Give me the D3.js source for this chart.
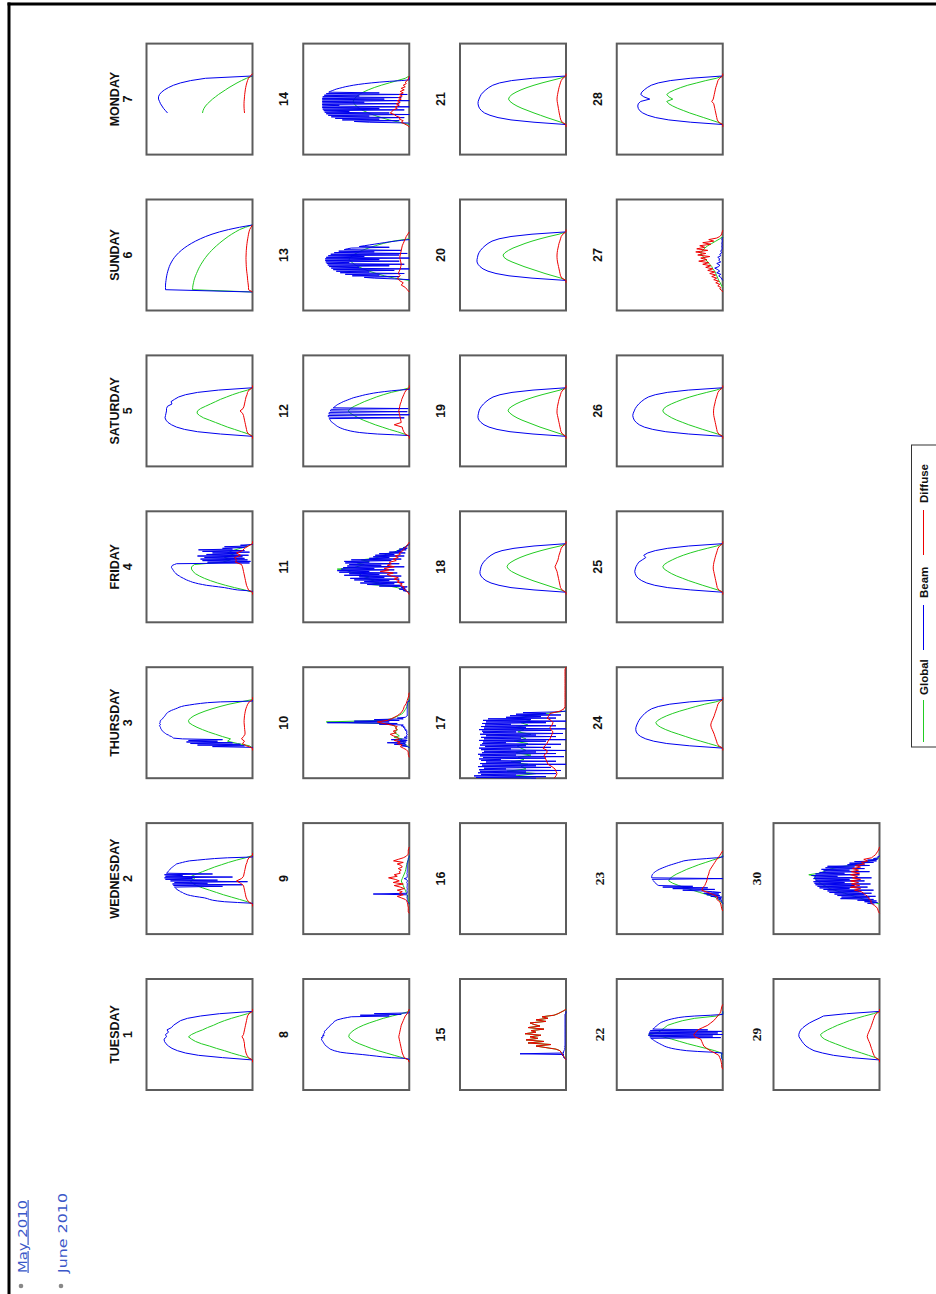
<!DOCTYPE html>
<html>
<head>
<meta charset="utf-8">
<script src="https://cdn.jsdelivr.net/npm/d3@7"></script>
<style>
  html, body { margin: 0; padding: 0; background: #fff; }
  svg { display: block; }
</style>
</head>
<body>
<svg id="cal" width="936" height="1294"></svg>
<script>
// Calendar of daily solar irradiance (May 2010), drawn rotated a quarter turn.
const weekdayNames = ["TUESDAY", "WEDNESDAY", "THURSDAY", "FRIDAY", "SATURDAY", "SUNDAY", "MONDAY"];
const dayNumbers = [1, 2, 3, 4, 5, 6, 7, 8, 9, 10, 11, 12, 13, 14, 15, 16, 17, 18, 19, 20, 21, 22, 23, 24, 25, 26, 27, 28, 29, 30];
const serifDays = [22, 23, 29, 30];
const seriesNames = ["Global", "Beam", "Diffuse"];
const monthLinks = ["May 2010", "June 2010"];

// Each day: [start hour, step in minutes, W/m² readings...]
const globalSeries = [
  [6.5, 30, 0, 50, 130, 210, 280, 360, 430, 510, 570, 610, 640, 610, 560, 500, 450, 390, 340, 280, 210, 130, 50, 0],
  [6.5, 30, 0, 50, 130, 210, 290, 360, 430, 500, 560, 600, 620, 580, 610, 560, 500, 440, 380, 310, 240, 160, 70, 0],
  [6.5, 30, 0, 30, 150, 250, 220, 300, 370, 440, 500, 555, 600, 635, 640, 620, 585, 535, 475, 405, 325, 235, 120, 0],
  [6.5, 30, 0, 80, 180, 270, 350, 420, 480, 530, 570, 595, 610, 610, 580, 300, 220, 280, 180, 250, 200, 120, 50, 0],
  [6.5, 30, 0, 40, 110, 180, 250, 310, 370, 430, 490, 530, 555, 550, 520, 470, 420, 370, 320, 260, 200, 130, 50, 0],
  [4, 30, 0, 600, 598, 595, 590, 585, 578, 570, 560, 550, 540, 528, 515, 500, 485, 468, 450, 430, 408, 385, 360, 333, 305, 275, 243, 208, 170, 128, 70, 0],
  [9, 30, 500, 495, 485, 470, 450, 425, 400, 370, 340, 305, 270, 235, 195, 155, 110, 60, 0],
  [6.5, 30, 0, 70, 150, 230, 310, 380, 440, 500, 550, 585, 605, 600, 580, 550, 510, 460, 400, 330, 260, 170, 80, 0],
  [6.5, 30, 0, 5, 10, 15, 20, 30, 40, 50, 60, 70, 80, 70, 60, 50, 40, 35, 30, 25, 20, 10, 5, 0],
  [6.5, 20, 0, 10, 30, 60, 50, 90, 70, 150, 100, 120, 150, 130, 120, 130, 140, 160, 260, 830, 260, 180, 140, 110, 80, 60, 50, 40, 30, 25, 20, 15, 10, 5, 0],
  [6.5, 20, 0, 40, 80, 120, 200, 380, 300, 400, 350, 450, 400, 500, 480, 580, 620, 720, 550, 500, 450, 520, 400, 480, 350, 300, 250, 220, 150, 120, 80, 50, 30, 0],
  [6.5, 30, 0, 50, 120, 200, 270, 340, 400, 460, 510, 550, 590, 610, 590, 550, 500, 450, 390, 330, 260, 180, 80, 0],
  [6.5, 30, 0, 150, 250, 330, 400, 460, 510, 550, 580, 600, 590, 560, 520, 470, 410, 340, 260, 160, 0],
  [6.5, 30, 0, 100, 200, 280, 350, 410, 460, 500, 530, 550, 560, 550, 530, 500, 460, 410, 350, 280, 200, 120, 40, 0],
  [6.5, 20, 0, 10, 20, 30, 40, 50, 60, 100, 200, 300, 150, 380, 220, 400, 280, 360, 250, 410, 300, 350, 220, 380, 260, 320, 360, 200, 300, 180, 240, 120, 80, 50, 20, 0],
  [],
  [0, 30, 350, 500, 300, 590, 400, 450, 380, 550, 420, 480, 350, 500, 400, 450, 490, 380, 520, 400, 460, 350, 480, 420, 500, 380, 450, 360, 490, 360, 200, 0],
  [6.5, 30, 0, 50, 120, 190, 260, 330, 390, 450, 500, 545, 575, 590, 580, 550, 510, 460, 400, 330, 250, 160, 60, 0],
  [6.5, 30, 0, 50, 120, 190, 260, 320, 380, 440, 490, 530, 560, 580, 570, 540, 500, 450, 390, 320, 240, 150, 60, 0],
  [6.5, 30, 0, 50, 130, 210, 280, 350, 420, 480, 540, 590, 620, 630, 610, 575, 530, 470, 410, 340, 260, 170, 70, 0],
  [6.5, 30, 0, 50, 120, 190, 255, 320, 380, 440, 490, 530, 560, 575, 565, 540, 500, 450, 390, 320, 240, 150, 60, 0],
  [6.5, 30, 0, 10, 10, 15, 80, 170, 260, 350, 430, 510, 600, 740, 640, 610, 580, 550, 480, 400, 280, 60, 0, 0],
  [6.5, 30, 0, 20, 40, 80, 150, 230, 300, 380, 440, 500, 540, 530, 500, 460, 410, 360, 300, 240, 170, 100, 30, 0],
  [6.5, 30, 0, 60, 140, 220, 300, 370, 440, 510, 570, 620, 655, 670, 650, 610, 560, 500, 430, 350, 270, 180, 70, 0],
  [6.5, 30, 0, 50, 125, 200, 270, 340, 400, 460, 510, 550, 585, 600, 585, 550, 505, 455, 395, 325, 245, 155, 60, 0],
  [6.5, 30, 0, 50, 125, 200, 270, 340, 400, 460, 510, 550, 585, 600, 590, 560, 515, 460, 400, 330, 250, 160, 65, 0],
  [5, 30, 0, 15, 25, 40, 50, 60, 70, 80, 100, 110, 130, 150, 170, 190, 210, 220, 200, 180, 150, 110, 70, 30, 0],
  [6.5, 30, 0, 50, 120, 190, 260, 330, 390, 450, 500, 540, 560, 500, 540, 560, 530, 480, 420, 350, 260, 170, 65, 0],
  [6.5, 30, 0, 40, 110, 180, 250, 320, 380, 440, 500, 550, 580, 590, 560, 520, 470, 420, 360, 300, 230, 150, 60, 0],
  [6.5, 20, 0, 50, 100, 150, 200, 250, 300, 350, 400, 450, 500, 520, 550, 580, 600, 620, 640, 650, 640, 707, 600, 560, 520, 480, 400, 300, 200, 150, 100, 50, 0]
];

const beamSeries = [
  [6.5, 30, 0, 300, 540, 670, 750, 805, 840, 865, 880, 885, 860, 870, 840, 855, 810, 790, 755, 720, 650, 520, 330, 0],
  [6.5, 10, 0, 0, 150, 280, 350, 400, 430, 450, 480, 530, 580, 620, 650, 670, 690, 700, 720, 730, 745, 755,
    765, 770, 780, 300, 790, 100, 800, 450, 780, 50, 820, 350, 870, 600, 880, 200, 870, 700, 880, 400,
    860, 850, 845, 840, 830, 825, 820, 810, 800, 790, 780, 770, 760, 730, 700, 670, 630, 550, 470, 380, 250, 0, 0, 0],
  [6.5, 10, 0, 0, 400, 80, 550, 120, 620, 200, 660, 350, 640, 300, 700, 790, 800, 810, 830, 840, 860, 870,
    880, 890, 900, 905, 910, 915, 920, 920, 925, 930, 925, 920, 930, 925, 920, 925, 920, 910, 900, 895,
    890, 880, 875, 870, 865, 860, 850, 840, 825, 810, 790, 770, 750, 735, 710, 680, 630, 580, 520, 450, 320, 0, 0, 0],
  [6.5, 10, 0, 0, 50, 150, 200, 240, 280, 340, 400, 460, 500, 540, 570, 600, 620, 640, 660, 675, 690, 705,
    720, 730, 745, 755, 765, 770, 780, 785, 790, 795, 800, 805, 810, 810, 805, 800, 780, 760, 30, 450,
    20, 500, 50, 520, 80, 480, 100, 550, 40, 460, 150, 400, 30, 500, 80, 540, 200, 300, 80, 280, 50, 120, 0, 0],
  [6.5, 30, 0, 320, 550, 680, 760, 810, 845, 865, 875, 870, 865, 860, 860, 850, 805, 815, 780, 740, 670, 550, 340, 0],
  [4, 30, 0, 870, 870, 870, 868, 865, 862, 858, 853, 847, 840, 832, 822, 810, 796, 780, 760, 738, 712, 683, 650, 612, 570, 522, 468, 405, 330, 240, 130, 0],
  [9, 30, 850, 870, 890, 905, 920, 930, 940, 940, 930, 910, 880, 840, 790, 720, 620, 470, 0],
  [6.5, 10, 0, 0, 40, 180, 270, 330, 400, 470, 550, 630, 690, 720, 750, 770, 790, 800, 810, 820, 830, 840,
    845, 850, 855, 860, 865, 870, 875, 880, 870, 880, 860, 870, 850, 860, 855, 850, 845, 850, 840, 830,
    825, 820, 810, 800, 795, 790, 780, 770, 760, 755, 750, 735, 720, 690, 660, 620, 580, 200, 490, 80, 350, 0, 0, 0],
  [6.5, 10, 0, 0, 10, 15, 20, 20, 20, 20, 20, 25, 20, 20, 25, 360, 20, 20, 20, 20, 25, 20,
    20, 20, 25, 20, 20, 20, 20, 20, 25, 20, 20, 20, 30, 50, 25, 20, 20, 20, 20, 20,
    25, 20, 20, 20, 20, 20, 20, 20, 20, 20, 20, 20, 20, 20, 15, 15, 15, 10, 10, 10, 5, 0, 0, 0],
  [6.5, 10, 0, 0, 20, 80, 30, 150, 40, 220, 30, 120, 20, 180, 30, 20, 50, 20, 30, 20, 20, 30,
    20, 30, 20, 40, 30, 50, 40, 60, 50, 80, 60, 300, 120, 820, 200, 550, 100, 350, 60, 120,
    40, 30, 20, 20, 20, 20, 20, 20, 20, 20, 20, 20, 20, 20, 20, 20, 20, 20, 20, 20, 20, 0, 0, 0],
  [6.5, 10, 0, 20, 60, 30, 100, 40, 80, 20, 300, 80, 420, 150, 490, 50, 450, 200, 550, 100, 590, 250,
    500, 80, 650, 300, 600, 120, 700, 400, 720, 150, 680, 350, 660, 50, 620, 280, 600, 100, 640, 400,
    650, 180, 580, 80, 400, 200, 360, 50, 340, 150, 300, 40, 200, 80, 120, 30, 100, 20, 60, 20, 30, 10, 0, 0],
  [6.5, 10, 0, 0, 150, 320, 420, 500, 550, 590, 620, 650, 670, 690, 705, 720, 730, 740, 750, 760, 770, 780,
    785, 790, 795, 800, 50, 805, 810, 810, 0, 805, 800, 800, 20, 790, 785, 780, 10, 760, 750, 740,
    730, 720, 705, 690, 675, 660, 640, 620, 600, 580, 560, 530, 500, 470, 440, 400, 360, 310, 250, 180, 100, 0, 0, 0],
  [6.5, 10, 0, 0, 150, 350, 450, 100, 570, 300, 640, 50, 690, 400, 730, 150, 760, 0, 780, 500, 800, 200,
    815, 50, 825, 600, 835, 100, 840, 300, 840, 0, 830, 450, 810, 100, 785, 20, 750, 350, 705, 80,
    650, 620, 580, 200, 500, 450, 400, 350, 300, 250, 200, 140, 80, 0],
  [6.5, 10, 0, 0, 10, 400, 550, 100, 670, 300, 740, 50, 780, 400, 810, 0, 830, 200, 845, 600, 855, 50,
    865, 300, 870, 0, 870, 700, 870, 100, 870, 450, 870, 0, 870, 250, 870, 80, 865, 500, 850, 20,
    830, 300, 805, 790, 770, 750, 730, 700, 670, 640, 600, 560, 510, 450, 380, 300, 200, 80, 0, 0, 0, 0, 0, 0],
  [6.5, 10, 0, 0, 10, 20, 30, 20, 40, 20, 460, 20, 30, 20, 20, 15, 10, 15, 10, 15, 10, 10,
    10, 10, 10, 10, 10, 10, 10, 10, 10, 10, 10, 10, 10, 10, 10, 10, 10, 10, 10, 10,
    10, 10, 10, 10, 10, 10, 10, 10, 10, 10, 10, 10, 10, 10, 10, 10, 10, 10, 10, 10, 5, 0, 0, 0],
  [],
  [0, 10, 300, 900, 200, 920, 500, 850, 100, 880, 400, 860, 50, 870, 600, 820, 150, 880, 300, 840, 0, 860,
    450, 800, 100, 850, 650, 870, 200, 830, 20, 860, 500, 880, 100, 840, 300, 820, 0, 850, 550, 870,
    150, 810, 400, 860, 50, 840, 600, 830, 200, 870, 0, 820, 450, 850, 100, 800, 300, 860, 30, 830,
    500, 840, 150, 870, 0, 820, 400, 850, 100, 810, 550, 840, 200, 800, 0, 830, 350, 780, 100, 600,
    250, 560, 50, 500, 200, 430, 100, 0],
  [6.5, 30, 0, 320, 550, 670, 750, 800, 830, 850, 860, 860, 855, 850, 840, 825, 805, 780, 750, 710, 640, 520, 320, 0],
  [6.5, 30, 0, 330, 560, 690, 770, 820, 850, 870, 880, 880, 875, 870, 860, 845, 825, 800, 770, 730, 660, 540, 330, 0],
  [6.5, 30, 0, 340, 570, 700, 780, 830, 860, 880, 890, 890, 885, 880, 870, 855, 835, 810, 780, 740, 670, 550, 340, 0],
  [6.5, 30, 0, 320, 550, 680, 760, 815, 845, 865, 875, 880, 878, 870, 860, 848, 828, 802, 772, 732, 664, 545, 335, 0],
  [6.5, 10, 0, 5, 10, 10, 15, 10, 15, 10, 10, 5, 100, 250, 360, 420, 470, 510, 540, 565, 585, 600,
    615, 630, 645, 660, 670, 685, 695, 705, 720, 20, 730, 100, 745, 0, 740, 50, 735, 10, 725, 150,
    700, 690, 680, 672, 665, 655, 645, 635, 625, 610, 590, 570, 545, 515, 480, 440, 380, 280, 120, 0, 0, 0, 0, 0],
  [6.5, 10, 0, 0, 5, 10, 20, 10, 40, 15, 60, 10, 120, 30, 160, 40, 190, 20, 100, 225, 400, 80,
    500, 150, 600, 300, 640, 655, 665, 672, 678, 685, 692, 700, 705, 0, 710, 712, 710, 708, 705, 700,
    692, 685, 675, 663, 650, 635, 618, 600, 580, 560, 540, 515, 490, 465, 440, 415, 390, 340, 260, 160, 60, 0, 0, 0],
  [6.5, 30, 0, 330, 560, 690, 770, 820, 850, 865, 870, 868, 860, 850, 838, 822, 802, 780, 750, 712, 645, 530, 330, 0],
  [6.5, 30, 0, 320, 550, 680, 760, 810, 845, 865, 875, 880, 875, 868, 855, 840, 805, 770, 790, 750, 675, 550, 340, 0],
  [6.5, 30, 0, 340, 570, 700, 785, 835, 865, 885, 895, 900, 895, 885, 875, 860, 840, 815, 785, 745, 675, 555, 345, 0],
  [6.5, 20, 0, 10, 20, 40, 20, 60, 30, 50, 80, 40, 30, 60, 20, 40, 30, 50, 20, 30, 10, 20, 10, 5, 10, 5, 10, 5, 5, 10, 0],
  [6.5, 30, 0, 320, 540, 670, 750, 800, 830, 845, 850, 845, 820, 730, 790, 820, 810, 785, 755, 715, 645, 525, 325, 0],
  [6.5, 30, 0, 280, 460, 570, 655, 700, 735, 757, 775, 790, 805, 807, 800, 788, 765, 735, 700, 655, 605, 560, 330, 0],
  [6.5, 10, 50, 120, 20, 150, 30, 220, 60, 390, 100, 380, 40, 420, 150, 450, 80, 500, 200, 520, 60, 560,
    300, 600, 120, 620, 250, 640, 90, 650, 350, 660, 150, 640, 300, 660, 80, 650, 420, 680, 200, 640,
    350, 600, 100, 560, 300, 580, 150, 540, 250, 520, 100, 320, 150, 300, 60, 250, 30, 120, 20, 60, 10, 20, 0, 0]
];

const diffuseSeries = [
  [6, 30, 0, 0, 40, 55, 65, 70, 75, 80, 80, 85, 90, 105, 90, 85, 80, 75, 70, 65, 60, 55, 50, 35, 0, 0],
  [6, 30, 0, 0, 40, 55, 65, 70, 75, 80, 85, 90, 120, 160, 110, 90, 85, 80, 75, 70, 65, 55, 50, 35, 0, 0],
  [6, 30, 0, 0, 60, 100, 80, 110, 90, 75, 75, 78, 80, 82, 84, 84, 82, 80, 76, 72, 66, 58, 48, 32, 0, 0],
  [6, 30, 0, 0, 40, 50, 60, 65, 70, 75, 80, 85, 90, 95, 100, 110, 170, 160, 180, 120, 160, 100, 80, 40, 0, 0],
  [6, 30, 0, 0, 40, 55, 60, 65, 70, 75, 80, 85, 90, 100, 125, 95, 85, 80, 75, 70, 65, 55, 50, 35, 0, 0],
  [4, 30, 0, 40, 40, 42, 45, 48, 50, 52, 55, 58, 60, 62, 63, 64, 65, 65, 64, 63, 62, 60, 58, 55, 52, 48, 44, 40, 35, 28, 15, 0],
  [9, 30, 80, 82, 84, 85, 85, 84, 82, 80, 78, 75, 72, 68, 63, 57, 50, 40, 20, 0],
  [6, 30, 0, 10, 50, 60, 70, 75, 80, 85, 90, 95, 100, 105, 100, 95, 90, 85, 80, 70, 60, 50, 40, 20, 10, 0],
  [4.5, 20, 0, 10, 10, 10, 10, 15, 15, 20, 25, 40, 80, 120, 60, 100, 70, 120, 50, 90, 150, 60,
    160, 100, 140, 207, 120, 150, 90, 100, 80, 110, 70, 80, 120, 60, 157, 110, 60, 30, 15, 10, 10, 10, 5, 0],
  [4.5, 20, 0, 5, 10, 10, 15, 30, 60, 90, 70, 120, 90, 150, 100, 120, 160, 190, 130, 160, 120, 140,
    120, 180, 260, 320, 220, 180, 150, 120, 100, 80, 70, 60, 55, 50, 40, 30, 25, 20, 15, 10, 5, 5, 0],
  [6, 20, 0, 10, 20, 40, 60, 50, 90, 70, 120, 100, 150, 110, 180, 220, 160, 290, 200, 250, 150, 220,
    180, 200, 130, 160, 110, 140, 90, 100, 70, 60, 50, 30, 20, 10, 0],
  [6, 30, 0, 0, 40, 55, 65, 70, 150, 80, 85, 90, 95, 100, 105, 100, 95, 90, 80, 75, 65, 55, 45, 30, 0, 0],
  [4, 30, 0, 20, 40, 80, 60, 100, 120, 90, 110, 100, 90, 85, 80, 85, 90, 95, 90, 85, 80, 75, 70, 60, 50, 40, 30, 15, 0],
  [6, 20, 0, 20, 50, 80, 60, 100, 90, 130, 150, 190, 170, 160, 120, 140, 100, 130, 90, 120, 80, 110,
    70, 100, 60, 90, 50, 80, 40, 60, 30, 40, 20, 10, 5, 0],
  [6.5, 20, 0, 10, 20, 30, 40, 50, 60, 100, 200, 300, 150, 380, 220, 400, 280, 360, 250, 410, 300, 350, 220, 380, 260, 320, 360, 200, 300, 180, 240, 120, 80, 50, 20, 0],
  [],
  [0, 30, 120, 100, 90, 100, 110, 140, 180, 190, 200, 210, 220, 190, 190, 230, 210, 190, 180, 160, 150, 140,
    130, 150, 160, 140, 130, 150, 190, 170, 160, 60, 20, 10, 10, 10, 10, 10, 10, 10, 10, 10, 10, 10, 10, 10, 10, 10, 10, 10, 0],
  [6, 30, 0, 0, 40, 55, 60, 65, 70, 75, 80, 85, 90, 100, 110, 100, 90, 80, 75, 70, 62, 55, 48, 32, 0, 0],
  [6, 30, 0, 0, 35, 50, 55, 60, 65, 70, 75, 80, 85, 90, 90, 88, 85, 80, 75, 70, 62, 55, 48, 32, 0, 0],
  [6, 30, 0, 0, 40, 55, 60, 65, 70, 75, 80, 85, 88, 90, 90, 88, 85, 80, 75, 70, 62, 55, 48, 32, 0, 0],
  [6, 30, 0, 0, 38, 52, 58, 63, 68, 72, 76, 80, 84, 88, 90, 88, 84, 80, 75, 70, 63, 56, 48, 32, 0, 0],
  [4.5, 30, 0, 10, 10, 15, 20, 30, 40, 80, 125, 160, 190, 200, 210, 220, 280, 290, 270, 250, 200, 150, 120, 90, 70, 50, 30, 20, 15, 10, 0],
  [5, 30, 0, 10, 15, 20, 30, 60, 50, 90, 150, 210, 200, 180, 170, 160, 155, 150, 140, 135, 125, 110, 95, 80, 65, 45, 30, 15, 0],
  [6, 30, 0, 0, 40, 55, 62, 70, 78, 85, 95, 105, 115, 120, 115, 105, 95, 85, 78, 70, 62, 55, 48, 32, 0, 0],
  [6, 30, 0, 0, 40, 55, 60, 65, 70, 75, 80, 85, 90, 95, 95, 92, 88, 82, 76, 70, 62, 55, 48, 32, 0, 0],
  [6, 30, 0, 0, 40, 55, 60, 65, 70, 75, 80, 85, 90, 92, 92, 90, 86, 80, 75, 70, 62, 55, 48, 32, 0, 0],
  [4, 20, 0, 10, 30, 20, 50, 30, 70, 40, 90, 60, 110, 70, 130, 80, 150, 100, 170, 120, 200, 140,
    240, 160, 220, 130, 250, 170, 270, 150, 260, 180, 230, 120, 200, 90, 140, 60, 30, 15, 10, 5, 0],
  [6, 30, 0, 0, 40, 55, 60, 65, 70, 75, 80, 85, 90, 110, 95, 90, 85, 80, 75, 70, 62, 55, 48, 32, 0, 0],
  [6, 30, 0, 0, 40, 55, 65, 72, 80, 88, 95, 105, 115, 123, 118, 108, 98, 88, 80, 72, 64, 56, 48, 32, 0, 0],
  [4.5, 20, 0, 10, 15, 20, 30, 50, 70, 90, 80, 100, 110, 120, 140, 160, 180, 250, 190, 290, 200, 280,
    210, 290, 190, 270, 220, 290, 200, 280, 210, 270, 190, 240, 150, 180, 120, 157, 80, 60, 40, 30, 20, 10, 5, 0]
];

// ---- drawing ----
const svg = d3.select("#cal");
const colors = { Global: "#22cc22", Beam: "#0000ee", Diffuse: "#ee0000" };
const labelFont = "'Liberation Sans', Arial, Helvetica, sans-serif";
const serifFont = "'Liberation Serif', 'Times New Roman', serif";
const panelW = 106, panelH = 111;
const firstLeft = 146.5, colStep = 156.75;   // weeks run left to right
const firstTop = 979, rowStep = 155.9;        // weekdays run bottom to top

// page frame (top and left rule)
svg.append("line").attr("x1", 7.5).attr("x2", 936).attr("y1", 4).attr("y2", 4)
  .attr("stroke", "#000").attr("stroke-width", 3);
svg.append("line").attr("x1", 9).attr("x2", 9).attr("y1", 2.5).attr("y2", 1294)
  .attr("stroke", "#000").attr("stroke-width", 3);

function readings(entry) {
  if (!entry.length) return [];
  const [start, step, ...vals] = entry;
  return vals.map((v, i) => ({ t: start + i * step / 60, v }));
}

const allSeries = [globalSeries, beamSeries, diffuseSeries];

dayNumbers.forEach((day, k) => {
  const week = Math.floor(k / 7), wd = k % 7;
  const left = firstLeft + week * colStep;
  const top = firstTop - wd * rowStep;

  const x = d3.scaleLinear().domain([0, 1060]).range([left + panelW, left]);
  const y = d3.scaleLinear().domain([0, 24]).range([top + panelH, top]);
  const line = d3.line().x(d => x(d.v)).y(d => y(d.t));

  const g = svg.append("g").attr("class", "day");
  g.append("rect")
    .attr("x", left).attr("y", top).attr("width", panelW).attr("height", panelH)
    .attr("fill", "#fff").attr("stroke", "#5c5c5c").attr("stroke-width", 2);

  allSeries.forEach((S, si) => {
    const pts = readings(S[k]);
    if (!pts.length) return;
    g.append("path")
      .attr("d", line(pts))
      .attr("fill", "none")
      .attr("stroke", colors[seriesNames[si]])
      .attr("stroke-width", 1)
      .attr("stroke-linejoin", "round");
  });

  const cy = top + panelH / 2;
  if (week === 0) {
    const nx = left - 27.5;
    g.append("text").attr("transform", `translate(${nx},${cy}) rotate(-90)`)
      .attr("text-anchor", "middle").attr("font-family", labelFont)
      .attr("font-weight", "bold").attr("font-size", 12.5).attr("fill", "#111")
      .text(weekdayNames[wd]);
  }
  const serif = serifDays.includes(day);
  const dx = left - (serif ? 13 : 15);
  g.append("text").attr("transform", `translate(${dx},${cy}) rotate(-90)`)
    .attr("text-anchor", "middle").attr("font-family", serif ? serifFont : labelFont)
    .attr("font-weight", "bold").attr("font-size", serif ? 13.5 : 12.5).attr("fill", "#111")
    .text(day);
});

// legend, laid out along its own axis then turned upright
const legend = svg.append("g").attr("transform", "translate(911.5,747) rotate(-90)");
legend.append("rect").attr("x", 0).attr("y", 0).attr("width", 302).attr("height", 26)
  .attr("fill", "#fff").attr("stroke", "#333").attr("stroke-width", 1);
const legendLayout = [[5, 47, 52], [97, 142, 149], [192, 237, 244]];
seriesNames.forEach((name, i) => {
  const [a, b, tx] = legendLayout[i];
  legend.append("line").attr("x1", a).attr("x2", b).attr("y1", 12).attr("y2", 12)
    .attr("stroke", colors[name]).attr("stroke-width", 1);
  legend.append("text").attr("x", tx).attr("y", 16.5)
    .attr("font-family", labelFont).attr("font-weight", "bold").attr("font-size", 11.5)
    .attr("fill", "#111").text(name);
});

// month links
const linkLengths = [73, 80];
monthLinks.forEach((label, i) => {
  const bx = 21 + i * 40;
  svg.append("circle").attr("cx", bx).attr("cy", 1286).attr("r", 2.3).attr("fill", "#888");
  const t = svg.append("text")
    .attr("transform", `translate(${bx + 5.5},1273) rotate(-90)`)
    .attr("font-family", "'DejaVu Sans', Verdana, sans-serif").attr("font-size", 12)
    .attr("textLength", linkLengths[i]).attr("lengthAdjust", "spacingAndGlyphs")
    .attr("fill", "#3a57c8").text(label);
  if (i === 0) t.attr("text-decoration", "underline");
});
</script>
</body>
</html>
